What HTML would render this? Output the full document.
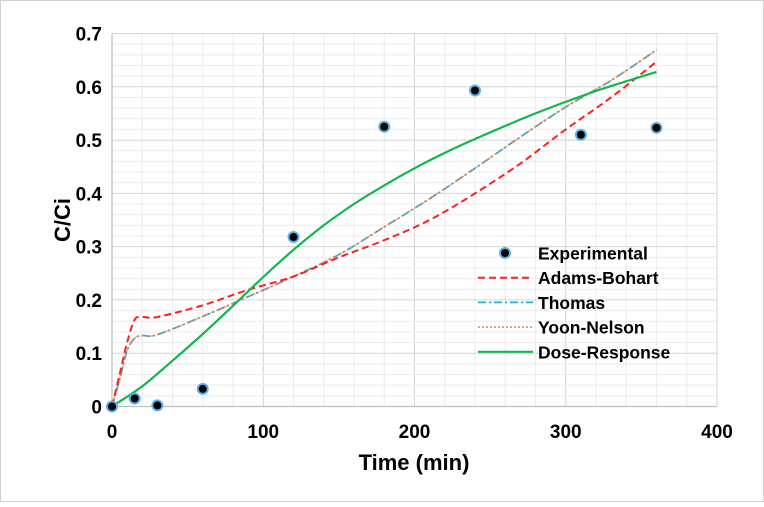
<!DOCTYPE html>
<html><head><meta charset="utf-8"><style>
body{margin:0;background:#fff;font-family:"Liberation Sans",Arial,sans-serif}
svg text{font-family:"Liberation Sans",Arial,sans-serif}
</style></head><body>
<svg id="c" width="764" height="502" xmlns="http://www.w3.org/2000/svg">
<rect x="0.5" y="0.5" width="763" height="501" fill="#fff" stroke="#d0d0d0"/>
<g id="grid"></g>
<g id="axes"></g>
<g id="series"></g>
<text x="70" y="220" transform="rotate(-90 70 220)" text-anchor="middle" font-size="22" font-weight="bold">C/Ci</text>
<text x="414" y="470" text-anchor="middle" font-size="22" font-weight="bold">Time (min)</text>
<g id="legend"></g>
</svg>
<script>
const xTicks=[0,100,200,300,400];
const yTicks=[0,0.1,0.2,0.3,0.4,0.5,0.6,0.7];
const yTickLabels=["0","0.1","0.2","0.3","0.4","0.5","0.6","0.7"];
const expT=[0,15,30,60,120,180,240,310,360];
const expC=[0,0.015,0.002,0.033,0.318,0.525,0.593,0.51,0.523];
const modelT=[0,5,10,15,20,30,60,90,120,150,180,210,240,270,300,330,360];
const adamsC=[0,0.06,0.12,0.163,0.168,0.168,0.19,0.219,0.244,0.28,0.312,0.35,0.4,0.456,0.52,0.58,0.647];
const thomasC=[0,0.05,0.105,0.128,0.133,0.135,0.169,0.206,0.244,0.285,0.337,0.39,0.447,0.506,0.562,0.612,0.669];
const yoonC=[0,0.05,0.105,0.128,0.133,0.135,0.169,0.206,0.244,0.285,0.337,0.39,0.447,0.506,0.562,0.612,0.669];
const doseT=[0,20,40,60,80,100,120,140,160,180,200,220,240,280,320,360];
const doseC=[0,0.038,0.086,0.136,0.189,0.243,0.294,0.34,0.38,0.415,0.447,0.476,0.502,0.55,0.592,0.628];
const NS="http://www.w3.org/2000/svg";
const X0=112,X1=717,Y0=406.5,Y1=33.5;
const sx=v=>X0+(v-0)/400*(X1-X0);
const sy=v=>Y0-(v-0)/0.7*(Y0-Y1);
function mk(tag,attrs,parent){const e=document.createElementNS(NS,tag);for(const k in attrs)e.setAttribute(k,attrs[k]);parent.appendChild(e);return e;}
const grid=document.getElementById('grid'),axes=document.getElementById('axes'),ser=document.getElementById('series'),leg=document.getElementById('legend');
for(let t=0;t<=400;t+=20){const l=mk('line',{x1:sx(t),x2:sx(t),y1:Y1,y2:Y0,stroke:t%100==0?'#d4d4d4':'#ececec','stroke-width':1},grid);

}
for(let i=0;i<=35;i++){const v=i*0.02;const l=mk('line',{x1:X0,x2:X1,y1:sy(v),y2:sy(v),stroke:i%5==0?'#d4d4d4':'#ececec','stroke-width':1},grid);

}
const ax=mk('line',{x1:X0,x2:X1,y1:Y0,y2:Y0,stroke:'#bfbfbf','stroke-width':1.2},axes);


const ay=mk('line',{x1:X0,x2:X0,y1:Y1,y2:Y0,stroke:'#bfbfbf','stroke-width':1.2},axes);


xTicks.forEach(t=>{const e=mk('text',{x:sx(t),y:438,'text-anchor':'middle','font-size':19,'font-weight':'bold'},axes);e.textContent=String(t);

});
yTicks.forEach((v,i)=>{const e=mk('text',{x:X0-10,y:sy(v)+7,'text-anchor':'end','font-size':19,'font-weight':'bold'},axes);e.textContent=yTickLabels[i];

});
function pathD(T,C){
 const p=T.map((t,i)=>[sx(t),sy(C[i])]);
 let d='M'+p[0][0].toFixed(1)+','+p[0][1].toFixed(1);
 for(let i=0;i<p.length-1;i++){
  const p0=p[i-1]||p[i],p1=p[i],p2=p[i+1],p3=p[i+2]||p2;
  const c1=[p1[0]+(p2[0]-p0[0])/6,p1[1]+(p2[1]-p0[1])/6];
  const c2=[p2[0]-(p3[0]-p1[0])/6,p2[1]-(p3[1]-p1[1])/6];
  d+='C'+c1[0].toFixed(1)+','+c1[1].toFixed(1)+' '+c2[0].toFixed(1)+','+c2[1].toFixed(1)+' '+p2[0].toFixed(1)+','+p2[1].toFixed(1);
 }
 return d;}
function line(T,C,style,name){
const p=mk('path',Object.assign({d:pathD(T,C),fill:'none'},style),ser);

}
const stA={stroke:'#ff2020','stroke-width':2,'stroke-dasharray':'7,4'};
const stT={stroke:'#1fa8d8','stroke-width':1.8,'stroke-dasharray':'8,3,2,3'};
const stY={stroke:'#f08a4a','stroke-width':1.6,'stroke-dasharray':'2,2'};
const stD={stroke:'#10b84a','stroke-width':2.2};
line(modelT,thomasC,stT,'thomas-line');
line(modelT,yoonC,stY,'yoon-nelson-line');
line(modelT,adamsC,stA,'adams-bohart-line');
line(doseT,doseC,stD,'dose-response-line');
function marker(x,y,parent){mk('circle',{cx:x,cy:y,r:6,fill:'#5ab0e8'},parent);const c=mk('circle',{cx:x,cy:y,r:4,fill:'#000'},parent);return c;}
expT.forEach((t,i)=>{const c=marker(sx(t),sy(expC[i]),ser);

});
const items=[['Experimental',null],['Adams-Bohart',stA],['Thomas',stT],['Yoon-Nelson',stY],['Dose-Response',stD]];
items.forEach((it,i)=>{const y=253+i*24.7;
if(it[1]){const l=mk('line',Object.assign({x1:478,x2:533,y1:y,y2:y},it[1]),leg);

}
else{const c=marker(505,y,leg);

}
const e=mk('text',{x:538,y:y+6.5,'font-size':17.5,'font-weight':'bold'},leg);e.textContent=it[0];

});
</script>
</body></html>
